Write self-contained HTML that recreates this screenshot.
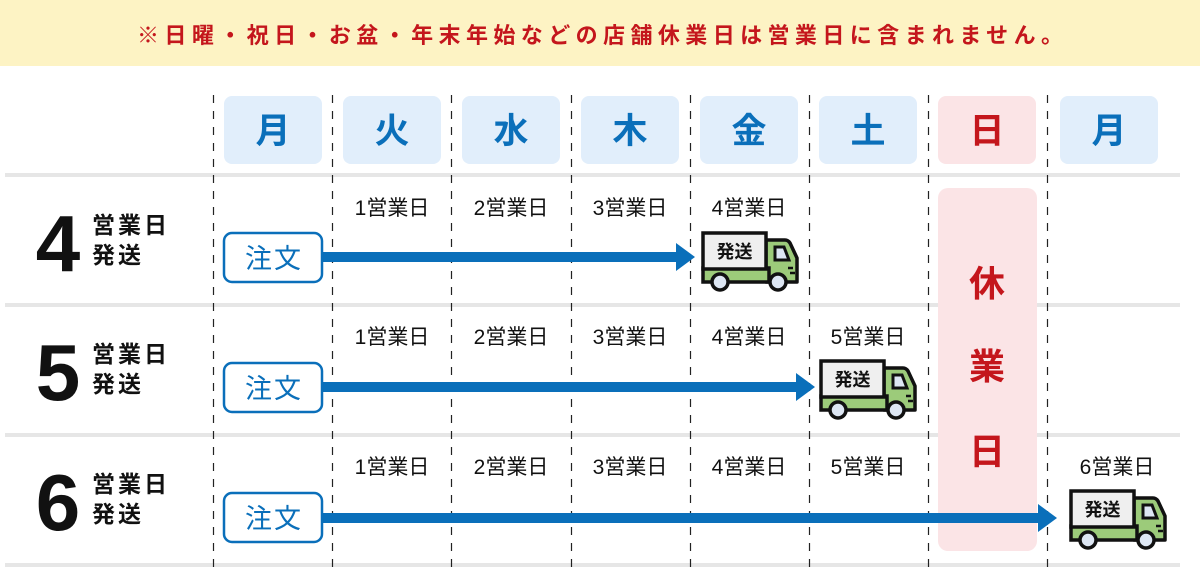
<!DOCTYPE html>
<html><head><meta charset="utf-8"><style>
html,body{margin:0;padding:0;background:#fff;}
svg{display:block;}
text{font-family:"Liberation Sans","Noto Sans CJK JP",sans-serif;}
</style></head><body>
<svg width="1200" height="569" viewBox="0 0 1200 569" xmlns="http://www.w3.org/2000/svg">
<defs>
<g id="truck">
  <path d="M66 10 L85 10 Q88 10 90 13 L97 28 L97 52 L66 52 Z" fill="#9ccb7a" stroke="#111" stroke-width="3.5" stroke-linejoin="round"/>
  <rect x="3" y="38" width="66" height="14" fill="#9ccb7a" stroke="#111" stroke-width="3.5"/>
  <rect x="3" y="3" width="63" height="36" fill="#efefef" stroke="#111" stroke-width="3.5"/>
  <path d="M75 17 L84 17 L89 30 L75 30 Z" fill="#dde6f3" stroke="#111" stroke-width="3"/>
  <line x1="88" y1="38" x2="93" y2="38" stroke="#111" stroke-width="2.5"/>
  <line x1="90" y1="43" x2="95" y2="43" stroke="#111" stroke-width="2.5"/>
  <circle cx="20" cy="52" r="8" fill="#dde6f3" stroke="#111" stroke-width="3.5"/>
  <circle cx="78" cy="52" r="8" fill="#dde6f3" stroke="#111" stroke-width="3.5"/>
  <text x="34.5" y="28" font-size="18" font-weight="bold" text-anchor="middle" fill="#111">発送</text>
</g>
</defs>
<rect x="0" y="0" width="1200" height="66" fill="#fdf3c4"/>
<text x="600" y="43" font-size="22" font-weight="bold" fill="#c4161c" text-anchor="middle" textLength="926" lengthAdjust="spacing">※日曜・祝日・お盆・年末年始などの店舗休業日は営業日に含まれません。</text>

<g fill="#e6e6e6">
<rect x="5" y="173" width="1175" height="4"/>
<rect x="5" y="303" width="1175" height="4"/>
<rect x="5" y="433" width="1175" height="4"/>
<rect x="5" y="563" width="1175" height="4"/>
</g>

<g stroke="#222" stroke-width="1.2" stroke-dasharray="8,8">
<line x1="213.5" y1="95" x2="213.5" y2="569"/>
<line x1="332.5" y1="95" x2="332.5" y2="569"/>
<line x1="451.5" y1="95" x2="451.5" y2="569"/>
<line x1="571.5" y1="95" x2="571.5" y2="569"/>
<line x1="690.5" y1="95" x2="690.5" y2="569"/>
<line x1="809.5" y1="95" x2="809.5" y2="569"/>
<line x1="928.5" y1="95" x2="928.5" y2="569"/>
<line x1="1047.5" y1="95" x2="1047.5" y2="569"/>
</g>

<g fill="#e1eefb">
<rect x="224" y="96" width="98" height="68" rx="8"/>
<rect x="343" y="96" width="98" height="68" rx="8"/>
<rect x="462" y="96" width="98" height="68" rx="8"/>
<rect x="581" y="96" width="98" height="68" rx="8"/>
<rect x="700" y="96" width="98" height="68" rx="8"/>
<rect x="819" y="96" width="98" height="68" rx="8"/>
<rect x="938" y="96" width="98" height="68" rx="8" fill="#fbe4e6"/>
<rect x="1060" y="96" width="98" height="68" rx="8"/>
</g>
<g font-size="35" font-weight="bold" fill="#0a6fba" text-anchor="middle">
<text x="273" y="143">月</text><text x="392" y="143">火</text><text x="511" y="143">水</text>
<text x="630" y="143">木</text><text x="749" y="143">金</text><text x="868" y="143">土</text>
<text x="987" y="143" fill="#c4161c">日</text><text x="1109" y="143">月</text>
</g>

<rect x="938" y="188" width="99" height="363" rx="10" fill="#fbe4e6"/>
<g font-size="36" font-weight="bold" fill="#c4161c" text-anchor="middle">
<text x="987" y="296">休</text><text x="987" y="379">業</text><text x="987" y="464">日</text>
</g>

<g font-weight="bold" fill="#111">
<text x="58" y="271" font-size="80" text-anchor="middle">4</text>
<text x="58" y="400" font-size="80" text-anchor="middle">5</text>
<text x="58" y="530" font-size="80" text-anchor="middle">6</text>
<g font-size="23" letter-spacing="3">
<text x="92" y="233">営業日</text><text x="92" y="263">発送</text>
<text x="92" y="362">営業日</text><text x="92" y="392">発送</text>
<text x="92" y="492">営業日</text><text x="92" y="522">発送</text>
</g>
</g>

<g font-size="21" fill="#111" text-anchor="middle">
<text x="392" y="215">1営業日</text><text x="511" y="215">2営業日</text><text x="630" y="215">3営業日</text><text x="749" y="215">4営業日</text>
<text x="392" y="344">1営業日</text><text x="511" y="344">2営業日</text><text x="630" y="344">3営業日</text><text x="749" y="344">4営業日</text><text x="868" y="344">5営業日</text>
<text x="392" y="474">1営業日</text><text x="511" y="474">2営業日</text><text x="630" y="474">3営業日</text><text x="749" y="474">4営業日</text><text x="868" y="474">5営業日</text><text x="1117" y="474">6営業日</text>
</g>

<g fill="#0a6fba">
<rect x="322" y="252" width="356" height="10"/><path d="M676 243 L695 257 L676 271 Z"/>
<rect x="322" y="382" width="476" height="10"/><path d="M796 373 L815 387 L796 401 Z"/>
<rect x="322" y="513" width="718" height="10"/><path d="M1038 504 L1057 518 L1038 532 Z"/>
</g>

<g fill="#fff" stroke="#0a6fba" stroke-width="2.5">
<rect x="224" y="233" width="98" height="49" rx="8"/>
<rect x="224" y="363" width="98" height="49" rx="8"/>
<rect x="224" y="493" width="98" height="49" rx="8"/>
</g>
<g font-size="27" fill="#0a6fba" text-anchor="middle" letter-spacing="2">
<text x="274" y="268">注文</text><text x="274" y="398">注文</text><text x="274" y="528">注文</text>
</g>

<use href="#truck" x="700" y="230"/>
<use href="#truck" x="818" y="358"/>
<use href="#truck" x="1068" y="488"/>
</svg>
</body></html>
